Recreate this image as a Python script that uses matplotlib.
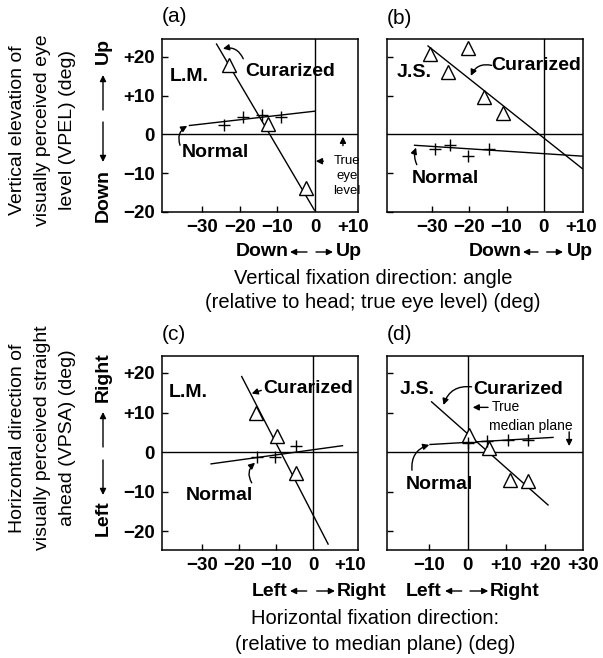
import matplotlib
matplotlib.use('Agg')
import matplotlib.pyplot as plt
from matplotlib.patches import FancyArrowPatch

plt.rcParams['font.family'] = ['Liberation Sans', 'DejaVu Sans']

# ---------------- data ----------------
# (a) L.M. vertical
a_cur_x = [-22.8, -12.4, -2.5]
a_cur_y = [17.9, 2.7, -13.9]
a_cur_fit_x = [-26.2, -0.2]
a_cur_fit_y = [23.3, -19.5]
a_nor_x = [-24.2, -19.3, -14.2, -9.2]
a_nor_y = [2.5, 4.5, 5.1, 4.6]
a_nor_fit_x = [-33.4, 0.0]
a_nor_fit_y = [2.3, 6.0]

# (b) J.S. vertical
b_cur_x = [-30.6, -25.8, -20.3, -16.0, -11.0]
b_cur_y = [20.7, 16.2, 22.2, 9.7, 5.5]
b_cur_fit_x = [-31.1, 10.3]
b_cur_fit_y = [22.8, -8.8]
b_nor_x = [-29.3, -25.1, -20.3, -14.6]
b_nor_y = [-3.8, -2.6, -5.5, -3.8]
b_nor_fit_x = [-34.7, 10.3]
b_nor_fit_y = [-2.8, -5.6]

# (c) L.M. horizontal
c_cur_x = [-15.3, -9.8, -4.6]
c_cur_y = [10.0, 4.1, -5.4]
c_cur_fit_x = [-19.3, 4.1]
c_cur_fit_y = [19.1, -23.3]
c_nor_x = [-15.1, -10.3, -4.7]
c_nor_y = [-1.3, -1.3, 1.5]
c_nor_fit_x = [-27.6, 8.0]
c_nor_fit_y = [-3.0, 1.6]

# (d) J.S. horizontal
d_cur_x = [0.4, 5.6, 11.0, 15.7]
d_cur_y = [4.3, 0.9, -7.1, -7.3]
d_cur_fit_x = [-9.4, 20.9]
d_cur_fit_y = [12.7, -13.4]
d_nor_x = [0.0, 4.9, 10.5, 15.7]
d_nor_y = [2.2, 2.9, 3.0, 3.0]
d_nor_fit_x = [-9.8, 22.2]
d_nor_fit_y = [1.9, 3.7]

y_ticks = [-20, -10, 0, 10, 20]
y_ticklabels = ['\u221220', '\u221210', '0', '+10', '+20']
x_ticks_top = [-30, -20, -10, 0, 10]
x_ticklabels_top = ['\u221230', '\u221220', '\u221210', '0', '+10']
x_ticks_c = [-30, -20, -10, 0, 10]
x_ticklabels_c = ['\u221230', '\u221220', '\u221210', '0', '+10']
x_ticks_d = [-10, 0, 10, 20, 30]
x_ticklabels_d = ['\u221210', '0', '+10', '+20', '+30']

# ---------------- figure ----------------
W, H = 603, 658
fig = plt.figure(figsize=(W / 100, H / 100), dpi=100)


def rect(l, t, r, b):
    return [l / W, 1 - b / H, (r - l) / W, (b - t) / H]


def ftext(px, py, s, **kw):
    fig.text(px / W, 1 - py / H, s, **kw)


def farrow(x0, y0, x1, y1):
    a = FancyArrowPatch((x0 / W, 1 - y0 / H), (x1 / W, 1 - y1 / H),
                        transform=fig.transFigure, arrowstyle='-|>',
                        mutation_scale=9, lw=1.0, color='k',
                        shrinkA=0, shrinkB=0)
    fig.add_artist(a)


BOLD = dict(fontsize=14, fontweight='bold')


def panel(r, xlim, ylim, xt, xtl, hide_x, show_ylab,
          cx, cy, cfx, cfy, nx, ny, nfx, nfy):
    ax = fig.add_axes(r)
    ax.set_xlim(xlim)
    ax.set_ylim(ylim)
    ax.axhline(0, color='k', lw=1.0, zorder=1)
    ax.axvline(0, color='k', lw=1.0, zorder=1)
    ax.plot(cfx, cfy, color='k', lw=1.0, zorder=2)
    ax.plot(nfx, nfy, color='k', lw=1.0, zorder=2)
    ax.plot(cx, cy, linestyle='none', marker='^', ms=10, mfc='white',
            mec='k', mew=1.0, zorder=3)
    ax.plot(nx, ny, linestyle='none', marker='+', ms=8, mec='k',
            mew=1.0, zorder=3)
    for s in ax.spines.values():
        s.set_linewidth(1.1)
    ax.set_xticks(xt)
    ax.set_xticklabels(xtl, fontsize=13.5, fontweight='bold')
    ax.set_yticks(y_ticks)
    if show_ylab:
        ax.set_yticklabels(y_ticklabels, fontsize=13.5, fontweight='bold')
    else:
        ax.set_yticklabels([])
    ax.tick_params(direction='in', length=4, width=1.0, pad=5)
    xtk = ax.xaxis.get_major_ticks()
    for i in hide_x:
        xtk[i].tick1line.set_visible(False)
    ax.yaxis.get_major_ticks()[2].tick1line.set_visible(False)
    return ax


def carrow(ax, tail, head, rad):
    ax.annotate('', xy=head, xytext=tail,
                arrowprops=dict(arrowstyle='-|>', lw=1.0, color='k',
                                mutation_scale=9, shrinkA=0, shrinkB=0,
                                connectionstyle='arc3,rad=%s' % rad))


# (a)
axa = panel(rect(162, 39, 358, 212), (-40.7, 11.4), (-20, 24.6),
            x_ticks_top, x_ticklabels_top, [3, 4], True,
            a_cur_x, a_cur_y, a_cur_fit_x, a_cur_fit_y,
            a_nor_x, a_nor_y, a_nor_fit_x, a_nor_fit_y)
axa.text(-38.6, 14.9, 'L.M.', ha='left', va='center', **BOLD)
axa.text(-18.6, 16.2, 'Curarized', ha='left', va='center', **BOLD)
carrow(axa, (-19.1, 19.5), (-24.5, 22.1), 0.4)
axa.text(-35.4, -4.7, 'Normal', ha='left', va='center', **BOLD)
carrow(axa, (-35.9, -2.8), (-34.0, 2.2), -0.4)
axa.text(8.4, -6.9, 'True', ha='center', va='center', fontsize=9.5)
axa.text(8.4, -10.8, 'eye', ha='center', va='center', fontsize=9.5)
axa.text(8.4, -14.7, 'level', ha='center', va='center', fontsize=9.5)
carrow(axa, (2.2, -6.9), (0.2, -6.9), 0)
carrow(axa, (7.4, -2.9), (7.4, -0.6), 0)

# (b)
axb = panel(rect(387, 39, 583, 212), (-42.1, 10.5), (-20, 24.6),
            x_ticks_top, x_ticklabels_top, [3, 4], False,
            b_cur_x, b_cur_y, b_cur_fit_x, b_cur_fit_y,
            b_nor_x, b_nor_y, b_nor_fit_x, b_nor_fit_y)
axb.text(-39.5, 15.9, 'J.S.', ha='left', va='center', **BOLD)
axb.text(-14.0, 17.8, 'Curarized', ha='left', va='center', **BOLD)
carrow(axb, (-14.0, 17.8), (-19.6, 15.1), 0.4)
axb.text(-35.5, -11.4, 'Normal', ha='left', va='center', **BOLD)
carrow(axb, (-34.1, -7.8), (-34.3, -3.4), -0.2)

# (c)
axc = panel(rect(162, 356, 358, 550), (-40.9, 12.2), (-24.8, 24.3),
            x_ticks_c, x_ticklabels_c, [3, 4], True,
            c_cur_x, c_cur_y, c_cur_fit_x, c_cur_fit_y,
            c_nor_x, c_nor_y, c_nor_fit_x, c_nor_fit_y)
axc.text(-39.0, 15.0, 'L.M.', ha='left', va='center', **BOLD)
axc.text(-13.6, 16.1, 'Curarized', ha='left', va='center', **BOLD)
carrow(axc, (-14.0, 15.6), (-16.6, 14.8), 0)
axc.text(-34.4, -10.9, 'Normal', ha='left', va='center', **BOLD)
carrow(axc, (-16.6, -7.8), (-15.7, -2.7), -0.4)

# (d)
axd = panel(rect(387, 356, 583, 550), (-21.0, 29.9), (-24.8, 24.3),
            x_ticks_d, x_ticklabels_d, [1, 4], False,
            d_cur_x, d_cur_y, d_cur_fit_x, d_cur_fit_y,
            d_nor_x, d_nor_y, d_nor_fit_x, d_nor_fit_y)
axd.text(-17.6, 15.7, 'J.S.', ha='left', va='center', **BOLD)
axd.text(1.5, 15.7, 'Curarized', ha='left', va='center', **BOLD)
carrow(axd, (1.0, 16.5), (-6.3, 11.9), 0.4)
axd.text(6.2, 11.3, 'True', ha='left', va='center', fontsize=10)
carrow(axd, (5.3, 11.3), (1.3, 11.3), 0)
axd.text(5.5, 6.6, 'median plane', ha='left', va='center', fontsize=10)
carrow(axd, (26.4, 5.1), (26.4, 1.5), 0)
axd.text(-16.1, -8.2, 'Normal', ha='left', va='center', **BOLD)
carrow(axd, (-14.5, -4.6), (-10.0, 1.8), -0.4)

# panel letters
for px, py, s in [(161.7, 17, '(a)'), (386.7, 18, '(b)'),
                  (161.7, 335, '(c)'), (386.7, 335, '(d)')]:
    ftext(px, py, s, ha='left', va='center', fontsize=15)

# direction labels under x axes
for (lt, y, w1, w2) in [
        ((289, 307, 290, 316, 333, 336), 252, 'Down', 'Up'),
        ((521.7, 538, 523, 546.7, 563, 566.7), 252, 'Down', 'Up'),
        ((287.3, 306.7, 290, 316.7, 335, 336.7), 591, 'Left', 'Right'),
        ((441.7, 461.7, 445, 470, 488.3, 490), 591, 'Left', 'Right')]:
    tr, a0, a1, b0, b1, tl = lt
    ftext(tr, y, w1, ha='right', va='center', **BOLD)
    farrow(a0, y, a1, y)
    farrow(b0, y, b1, y)
    ftext(tl, y, w2, ha='left', va='center', **BOLD)

# direction labels beside y axes
for (yu, yd, up0, up1, dn0, dn1, wu, wd) in [
        (51, 196, 110, 75, 122, 162, 'Up', 'Down'),
        (377.5, 518.5, 447, 412, 460, 495, 'Right', 'Left')]:
    ftext(103, yu, wu, ha='center', va='center', rotation=90, **BOLD)
    ftext(103, yd, wd, ha='center', va='center', rotation=90, **BOLD)
    farrow(103, up0, 103, up1)
    farrow(103, dn0, 103, dn1)

# y axis titles
for (yc, lines) in [(130, ['Vertical elevation of', 'visually perceived eye',
                           'level (VPEL) (deg)']),
                    (438, ['Horizontal direction of',
                           'visually perceived straight',
                           'ahead (VPSA) (deg)'])]:
    for xc, s in zip([18, 43, 67], lines):
        ftext(xc, yc, s, ha='center', va='center', rotation=90, fontsize=14)

# x axis titles
ftext(373, 278, 'Vertical fixation direction: angle', ha='center',
      va='center', fontsize=14.5)
ftext(373, 302, '(relative to head; true eye level) (deg)', ha='center',
      va='center', fontsize=14.5)
ftext(375, 618, 'Horizontal fixation direction:', ha='center',
      va='center', fontsize=14.5)
ftext(375, 645, '(relative to median plane) (deg)', ha='center',
      va='center', fontsize=14.5)

fig.savefig('out.png', dpi=100)
